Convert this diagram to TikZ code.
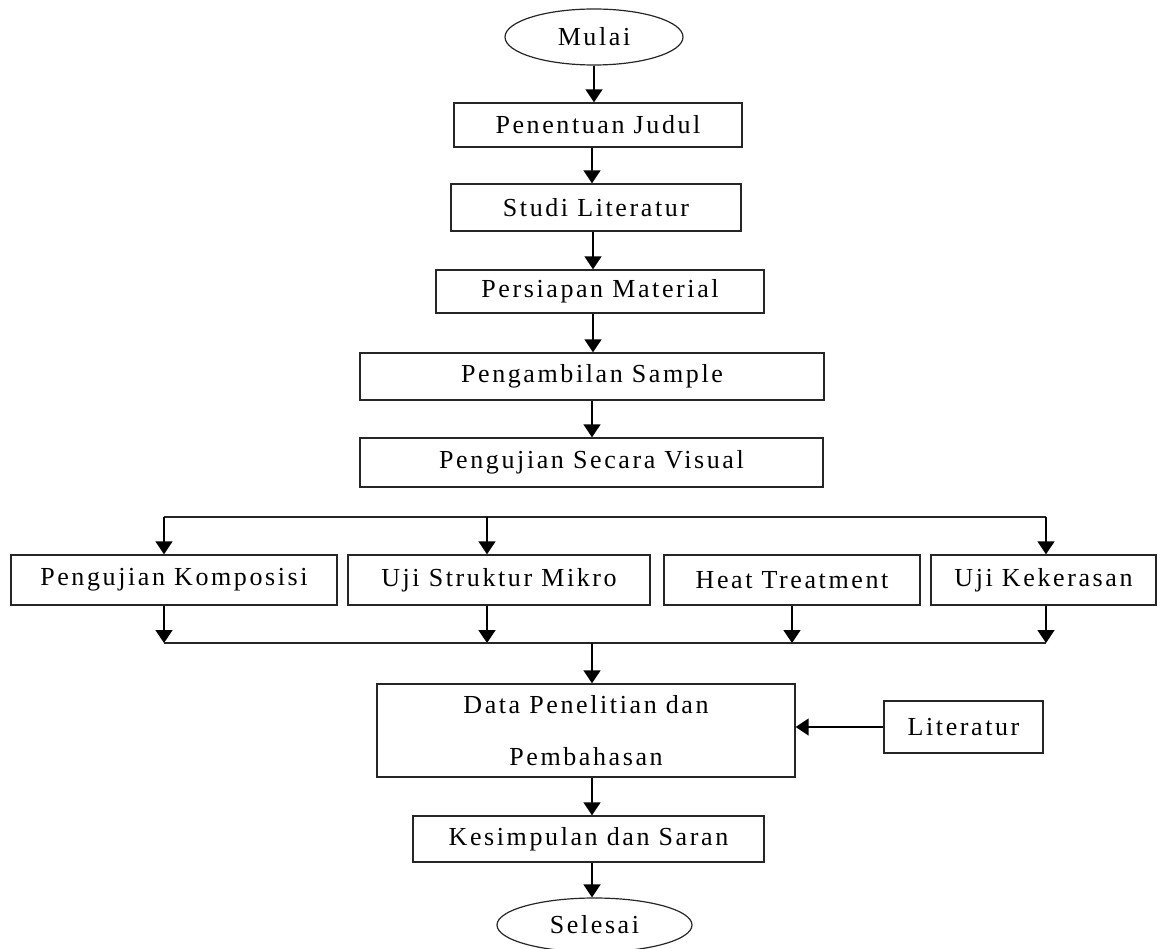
\documentclass[tikz,border=0pt]{standalone}
\usepackage{fontspec}
\setmainfont{Liberation Serif}[LetterSpace=10]
\usetikzlibrary{arrows.meta,shapes.geometric}
\tikzset{
  every node/.style={font=\fontsize{26}{30}\selectfont, text=black},
  box/.style={draw=black!85, line width=1.4pt, rectangle, inner sep=0pt, anchor=center},
  term/.style={draw=black!85, line width=1.2pt, ellipse, inner sep=0pt, anchor=center},
  arr/.style={draw=black, line width=1.8pt, -{Triangle[width=17pt,length=13pt]}},
  ln/.style={draw=black!85, line width=1.4pt}
}
\begin{document}
\begin{tikzpicture}[x=1pt,y=-1pt]
\useasboundingbox (0,0) rectangle (1158,949);
% terminals and boxes
\node[term, minimum width=178, minimum height=56] (mulai) at (594,37) {Mulai};
\node[box, minimum width=288, minimum height=44] (judul) at (598,125) {Penentuan Judul};
\node[box, minimum width=290, minimum height=47] (studi) at (596,207.5) {Studi Literatur};
\node[box, minimum width=328, minimum height=43] (persiapan) at (600,291.5) {Persiapan Material};
\node[box, minimum width=464, minimum height=47] (sample) at (592,376.5) {Pengambilan Sample};
\node[box, minimum width=463, minimum height=49] (visual) at (591.5,462.5) {Pengujian Secara Visual};
\node[box, minimum width=326, minimum height=50] (komposisi) at (174,580) {Pengujian Komposisi};
\node[box, minimum width=302, minimum height=50] (mikro) at (499,580) {Uji Struktur Mikro};
\node[box, minimum width=256, minimum height=50] (heat) at (792,580) {Heat Treatment};
\node[box, minimum width=225, minimum height=50] (keras) at (1043.5,580) {Uji Kekerasan};
\node[box, minimum width=418, minimum height=93, align=center] (data) at (586,730.5) {Data Penelitian dan\\[22pt]Pembahasan};
\node[box, minimum width=159, minimum height=52] (literatur) at (963.5,727) {Literatur};
\node[box, minimum width=351, minimum height=46] (kesimpulan) at (588.5,839) {Kesimpulan dan Saran};
\node[term, minimum width=195, minimum height=54] (selesai) at (594.5,925) {Selesai};
% bus coordinates
\coordinate (tL) at (164,517);
\coordinate (tM) at (487,517);
\coordinate (tR) at (1046,517);
\coordinate (bL) at (164,643);
\coordinate (bM) at (487,643);
\coordinate (bH) at (792,643);
\coordinate (bR) at (1046,643);
\coordinate (bD) at (592,643);
% main chain
\draw[arr] (mulai.south) -- (mulai.south |- judul.north);
\draw[arr] ([xshift=-6pt]judul.south) -- ([xshift=-6pt]judul.south |- studi.north);
\draw[arr] ([xshift=-3pt]studi.south) -- ([xshift=-3pt]studi.south |- persiapan.north);
\draw[arr] ([xshift=-7pt]persiapan.south) -- ([xshift=-7pt]persiapan.south |- sample.north);
\draw[arr] (sample.south) -- (sample.south |- visual.north);
% top bus
\draw[ln] (tL) -- (tR);
\draw[arr] (tL) -- (tL |- komposisi.north);
\draw[arr] (tM) -- (tM |- mikro.north);
\draw[arr] (tR) -- (tR |- keras.north);
% bottom bus
\draw[arr] (komposisi.south -| bL) -- (bL);
\draw[arr] (mikro.south -| bM) -- (bM);
\draw[arr] (heat.south -| bH) -- (bH);
\draw[arr] (keras.south -| bR) -- (bR);
\draw[ln] (bL) -- (bR);
\draw[arr] (bD) -- (bD |- data.north);
% lower chain
\draw[arr] (literatur.west) -- (literatur.west -| data.east);
\draw[arr] (bD |- data.south) -- (bD |- kesimpulan.north);
\draw[arr] (bD |- kesimpulan.south) -- (bD |- selesai.north);
\end{tikzpicture}
\end{document}
